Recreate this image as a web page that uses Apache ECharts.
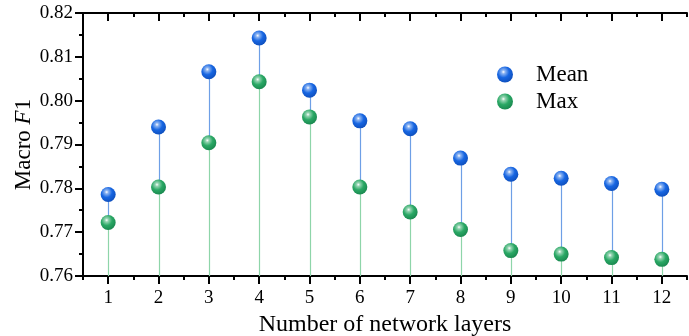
<!DOCTYPE html>
<html>
<head>
<meta charset="utf-8">
<script src="https://cdn.jsdelivr.net/npm/echarts@6/dist/echarts.min.js"></script>
<style>html,body{margin:0;padding:0;background:#fff;}#c{width:689px;height:336px;}</style>
</head>
<body>
<div id="c"></div>
<script>
const layers = ['1','2','3','4','5','6','7','8','9','10','11','12'];
const meanF1 = [0.7786, 0.7940, 0.8066, 0.8143, 0.8024, 0.7954, 0.7936, 0.7869, 0.7832, 0.7823, 0.7811, 0.7798];
const maxF1  = [0.7722, 0.7803, 0.7904, 0.8043, 0.7963, 0.7803, 0.7746, 0.7706, 0.7658, 0.7650, 0.7642, 0.7638];
const yTicks = [0.76, 0.77, 0.78, 0.79, 0.80, 0.81, 0.82];

const FONT = '"Liberation Serif", "Times New Roman", serif';
const Y_MIN = yTicks[0], Y_MAX = yTicks[yTicks.length - 1];
const BLUE = '#1766e2', GREEN = '#2aa865';
const BLUE_STEM = '#6e9fe6', GREEN_STEM = '#8ed5a9';

function lighten(c, k) {
  const n = parseInt(c.slice(1), 16);
  const r = (n >> 16) & 255, g = (n >> 8) & 255, b = n & 255;
  const f = v => Math.round(v + (255 - v) * k);
  return 'rgb(' + f(r) + ',' + f(g) + ',' + f(b) + ')';
}
function sphere(base, dark) {
  return {
    type: 'radial', x: 0.4, y: 0.34, r: 0.72,
    colorStops: [
      { offset: 0, color: '#ffffff' },
      { offset: 0.16, color: lighten(base, 0.5) },
      { offset: 0.5, color: base },
      { offset: 1, color: dark }
    ]
  };
}

const stemData = layers.map((l, i) => [i, maxF1[i], meanF1[i]]);

const chart = echarts.init(document.getElementById('c'), null, { renderer: 'canvas' });
const axisLine = { show: true, lineStyle: { color: '#000', width: 2 } };
const tickStyle = { color: '#000', width: 2 };
chart.setOption({
  animation: false,
  backgroundColor: '#fff',
  grid: { left: 83, right: 2, top: 13, bottom: 60, containLabel: false, outerBoundsMode: 'none' },
  legend: {
    orient: 'vertical', left: 492, top: 58,
    itemWidth: 16, itemHeight: 16, itemGap: 4,
    icon: 'circle',
    data: ['Mean', 'Max'],
    textStyle: { fontFamily: FONT, fontSize: 23, color: '#000', padding: [0, 0, 0, 18] }
  },
  xAxis: [
    {
      type: 'category', data: layers, position: 'bottom',
      axisLine: axisLine,
      axisTick: { show: true, alignWithLabel: true, inside: false, length: 8, lineStyle: tickStyle },
      axisLabel: { fontFamily: FONT, fontSize: 19, color: '#000', margin: 13 },
      name: 'Number of network layers', nameLocation: 'middle', nameGap: 35,
      nameTextStyle: { fontFamily: FONT, fontSize: 24, color: '#000' },
      splitLine: { show: false }
    },
    {
      type: 'category', data: layers, position: 'top',
      axisLine: axisLine,
      axisTick: { show: true, alignWithLabel: true, inside: true, length: 8, lineStyle: tickStyle },
      axisLabel: { show: false }, splitLine: { show: false }
    },
    {
      type: 'value', min: 0, max: 12, interval: 1, position: 'bottom',
      axisLine: { show: false },
      axisTick: { show: true, inside: false, length: 4, lineStyle: tickStyle },
      axisLabel: { show: false }, splitLine: { show: false }
    },
    {
      type: 'value', min: 0, max: 12, interval: 1, position: 'top',
      axisLine: { show: false },
      axisTick: { show: true, inside: true, length: 4, lineStyle: tickStyle },
      axisLabel: { show: false }, splitLine: { show: false }
    }
  ],
  yAxis: [
    {
      type: 'value', min: Y_MIN, max: Y_MAX, interval: 0.01, position: 'left',
      axisLine: axisLine,
      axisTick: { show: true, inside: false, length: 8, lineStyle: tickStyle },
      minorTick: { show: true, splitNumber: 2, length: 4, lineStyle: tickStyle },
      axisLabel: { fontFamily: FONT, fontSize: 19, color: '#000', margin: 10, formatter: v => v.toFixed(2) },
      splitLine: { show: false }, minorSplitLine: { show: false },
      name: 'Macro {i|F}1', nameLocation: 'middle', nameGap: 48, nameMoveOverlap: false,
      nameTextStyle: { fontFamily: FONT, fontSize: 23, color: '#000',
        rich: { i: { fontFamily: FONT, fontSize: 23, fontStyle: 'italic', color: '#000' } } }
    },
    {
      type: 'value', min: Y_MIN, max: Y_MAX, interval: 0.01, position: 'right',
      axisLine: axisLine,
      axisTick: { show: true, inside: true, length: 8, lineStyle: tickStyle },
      minorTick: { show: true, splitNumber: 2, length: 4, lineStyle: tickStyle },
      axisLabel: { show: false }, splitLine: { show: false }, minorSplitLine: { show: false }
    }
  ],
  series: [
    {
      type: 'custom', xAxisIndex: 0, yAxisIndex: 0, silent: true, z: 1,
      data: stemData,
      renderItem: function (params, api) {
        const i = api.value(0);
        const p0 = api.coord([i, Y_MIN]);
        const p1 = api.coord([i, api.value(1)]);
        const p2 = api.coord([i, api.value(2)]);
        const x = Math.round(p0[0]) + 0.5;
        return {
          type: 'group',
          children: [
            { type: 'line', shape: { x1: x, y1: p0[1], x2: x, y2: p1[1] }, style: { stroke: GREEN_STEM, lineWidth: 1.2 } },
            { type: 'line', shape: { x1: x, y1: p1[1], x2: x, y2: p2[1] }, style: { stroke: BLUE_STEM, lineWidth: 1.2 } }
          ]
        };
      }
    },
    {
      name: 'Mean', type: 'scatter', xAxisIndex: 0, yAxisIndex: 0, z: 3,
      symbol: 'circle', symbolSize: 15,
      itemStyle: { color: sphere(BLUE, '#0d4cb8'), opacity: 1 },
      data: meanF1
    },
    {
      name: 'Max', type: 'scatter', xAxisIndex: 0, yAxisIndex: 0, z: 3,
      symbol: 'circle', symbolSize: 15,
      itemStyle: { color: sphere(GREEN, '#17844c'), opacity: 1 },
      data: maxF1
    }
  ]
});
</script>
</body>
</html>
